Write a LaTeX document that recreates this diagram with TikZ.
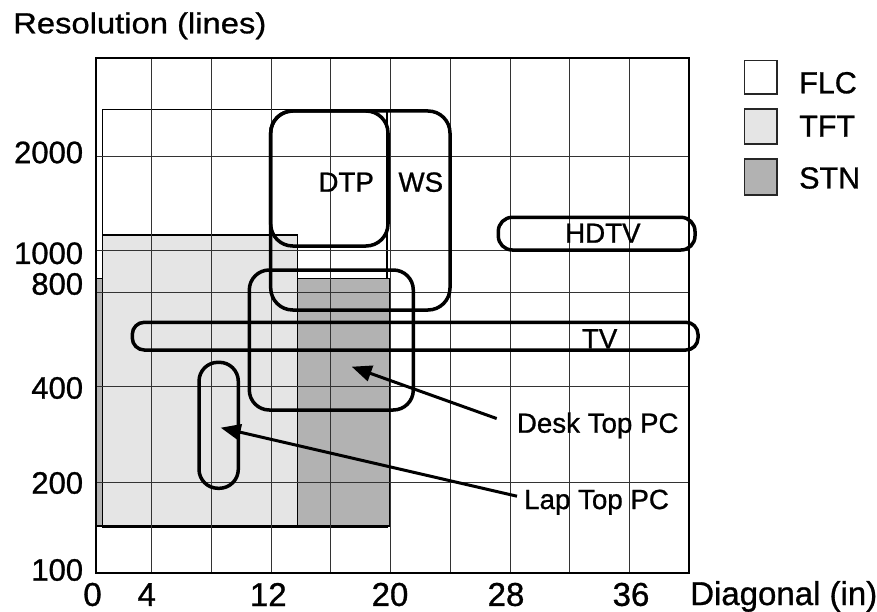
\documentclass[tikz,border=0pt]{standalone}
\usepackage{fontspec}
\setmainfont{Liberation Sans}[FakeBold=0.9]
\newfontfamily\widefont{Liberation Sans}[FakeStretch=1.13,FakeBold=0.9]
\usetikzlibrary{arrows.meta}
\definecolor{tftgray}{HTML}{E5E5E5}
\definecolor{stngray}{HTML}{B2B2B2}
\begin{document}
\begin{tikzpicture}[x=1pt,y=-1pt,
  gridline/.style={line width=0.9pt, black!80},
  region/.style={draw=black, line width=1.2pt},
  zone/.style={draw=black, line width=3.5pt},
  lbl/.style={inner sep=0pt, font=\fontsize{27.7}{32}\selectfont, anchor=base west},
  ytick/.style={inner sep=0pt, anchor=east, font=\fontsize{31}{36}\selectfont},
  xtick/.style={inner sep=0pt, anchor=center, font=\fontsize{33}{38}\selectfont},
  legbox/.style={draw=black!85, line width=1.6pt},
  legtext/.style={inner sep=0pt, anchor=base west, font=\fontsize{30.5}{35}\selectfont},
  pointer/.style={line width=3pt, -{Triangle[length=20pt,width=16pt]}}
]
\useasboundingbox (0,0) rectangle (877,612);
% technology regions
\draw[region, fill=white] (102.7,109.3) rectangle (387,527.7);
\draw[region, fill=stngray] (95.7,278.3) rectangle (390,526);
\draw[region, fill=tftgray] (102.7,235) rectangle (297.3,526);
% grid
\foreach \x in {151.7,211.5,271,330.7,390.5,450.2,510,569.6,629.2}
  \draw[gridline] (\x,57.7) -- (\x,572.7);
\foreach \y in {156.7,250,292.3,386.7,482.3}
  \draw[gridline] (95.7,\y) -- (689,\y);
\draw[line width=2pt] (95.7,57.7) rectangle (689,572.7);
% application zones
\draw[zone, rounded corners=22pt] (270.7,111) rectangle (450,310);
\draw[zone, rounded corners=22pt] (270.7,111) rectangle (388,246);
\draw[zone, rounded corners=20pt] (249.3,270) rectangle (413.3,410);
\draw[zone, rounded corners=12pt] (132.3,322.3) rectangle (698,350);
\draw[zone, rounded corners=14pt] (498.3,217.3) rectangle (695,250);
\draw[zone, rounded corners=19pt] (199,362.3) rectangle (238.3,488.3);
% labels
\node[lbl] (dtp) at (318.3,191.7) {DTP};
\node[lbl] (ws) at (398.3,191.7) {WS};
\node[lbl] (hdtv) at (565,242.7) {HDTV};
\node[lbl] (tv) at (581.7,348.3) {TV};
\node[lbl] (desk) at (516.7,432.7) {Desk Top PC};
\node[lbl] (lap) at (524,509) {Lap Top PC};
% pointers
\coordinate (desktip) at (351.7,366.7);
\coordinate (laptip) at (220.7,427.7);
\draw[pointer] ([xshift=-20pt,yshift=7pt]desk.west) -- (desktip);
\draw[pointer] ([xshift=-7pt,yshift=6pt]lap.west) -- (laptip);
% legend
\draw[legbox, fill=white] (744.3,60.7) rectangle (776.7,94.3);
\draw[legbox, fill=tftgray] (744.3,109.3) rectangle (776.7,144.3);
\draw[legbox, fill=stngray] (744.3,159.3) rectangle (776.7,195);
\node[legtext] (lflc) at (799,93.3) {FLC};
\node[legtext] (ltft) at (799,136.7) {TFT};
\node[legtext] (lstn) at (799,188.5) {STN};
% y ticks
\node[ytick] (y2000) at (83.3,152.5) {2000};
\node[ytick] (y1000) at (83.3,253.3) {1000};
\node[ytick] (y800) at (83.3,284) {800};
\node[ytick] (y400) at (83.3,388) {400};
\node[ytick] (y200) at (83.3,483) {200};
\node[ytick] (y100) at (83.3,570) {100};
% x ticks
\node[xtick] (x0) at (92.5,594.5) {0};
\node[xtick] (x4) at (146.7,594.5) {4};
\node[xtick] (x12) at (268.3,594.5) {12};
\node[xtick] (x20) at (390,594.5) {20};
\node[xtick] (x28) at (506,594.5) {28};
\node[xtick] (x36) at (631,594.5) {36};
% axis titles
\node[inner sep=0pt, anchor=base west, font=\widefont\fontsize{29}{34}\selectfont] (ytitle) at (13,33.3) {Resolution (lines)};
\node[inner sep=0pt, anchor=base west, font=\fontsize{33}{38}\selectfont] (xtitle) at (690,605) {Diagonal (in)};
\end{tikzpicture}
\end{document}
